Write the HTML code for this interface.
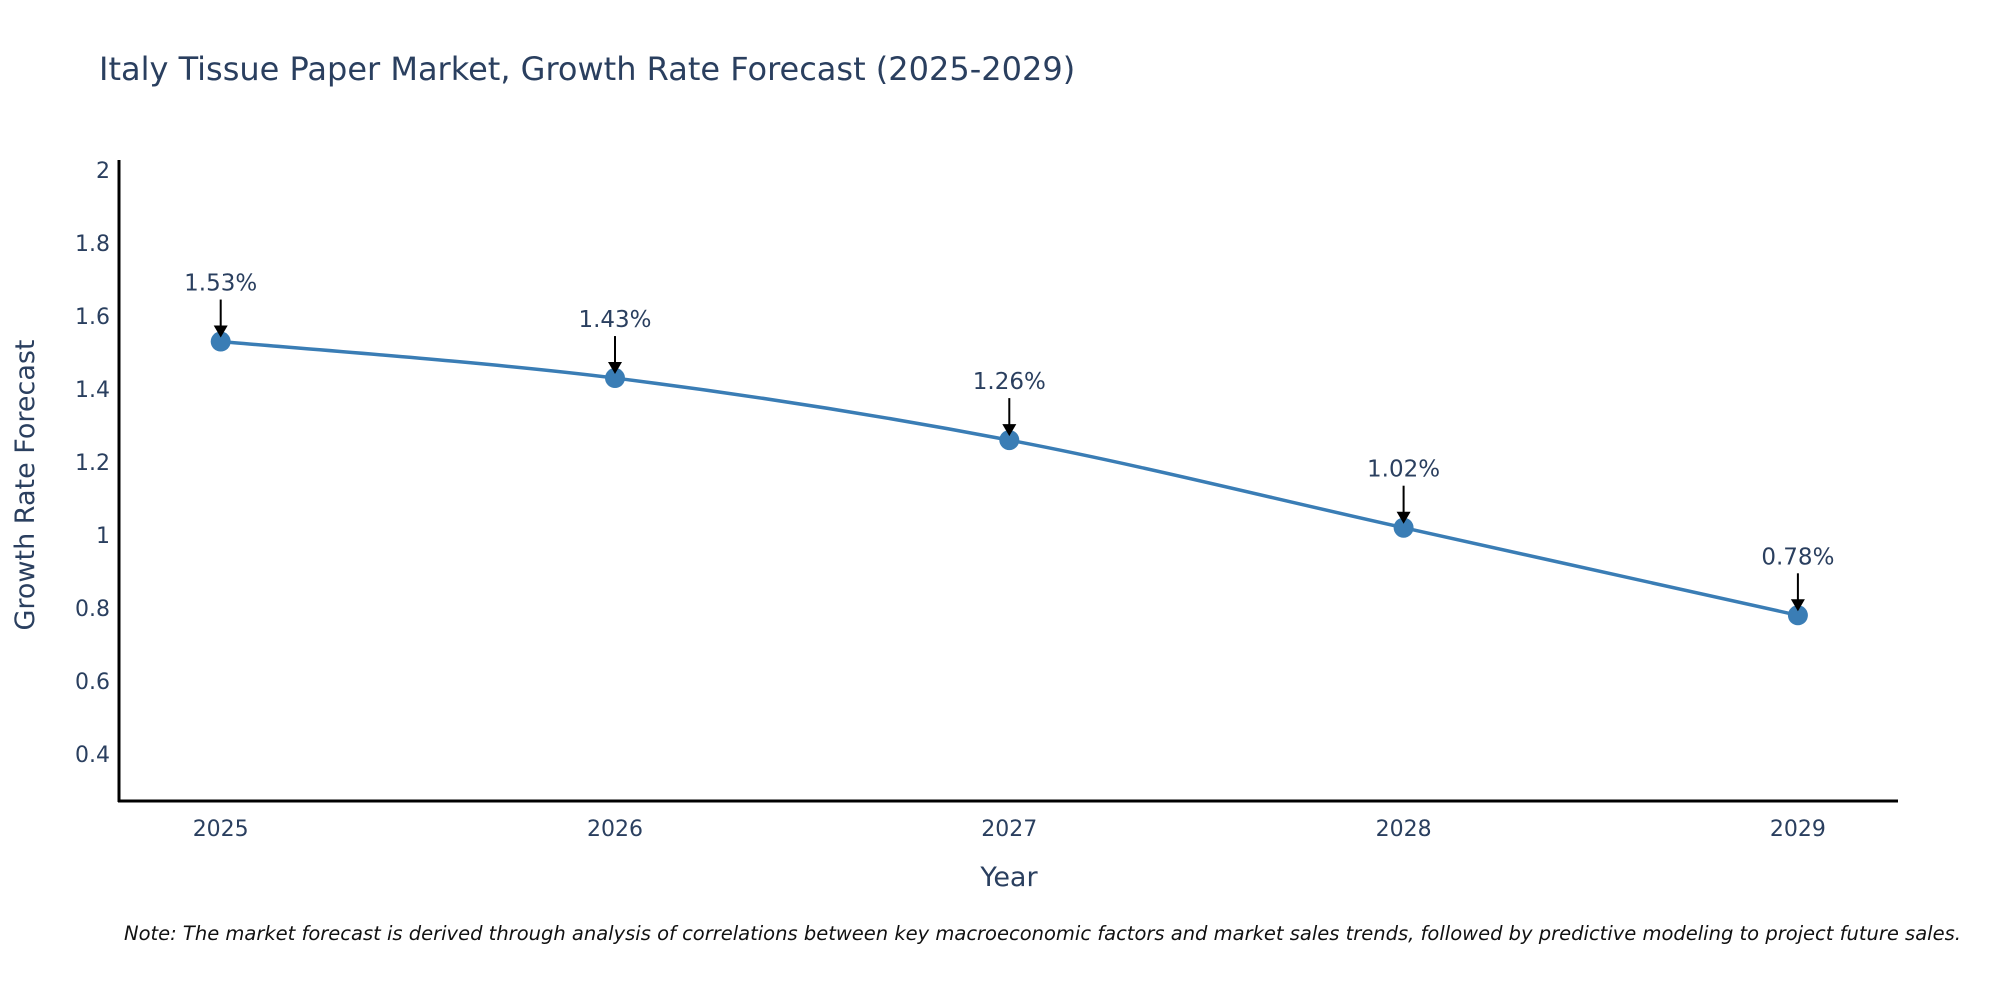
<!DOCTYPE html>
<html><head><meta charset="utf-8"><style>
body{margin:0;background:#fff;}
svg text{font-family:"DejaVu Sans","Liberation Sans",sans-serif;fill:#2a3f5f;}
</style></head><body>
<svg id="chart" width="2000" height="1000" xmlns="http://www.w3.org/2000/svg">
<text x="99" y="80" font-size="32">Italy Tissue Paper Market, Growth Rate Forecast (2025-2029)</text>
<g id="yticks"></g>
<g id="xticks"></g>
<line x1="119" y1="160" x2="119" y2="802" stroke="#000" stroke-width="3"/>
<line x1="118" y1="801" x2="1898" y2="801" stroke="#000" stroke-width="3"/>
<text transform="translate(34,485) rotate(-90)" text-anchor="middle" font-size="27">Growth Rate Forecast</text>
<text x="1009" y="886" text-anchor="middle" font-size="27">Year</text>
<path id="line" fill="none" stroke="#3a7db5" stroke-width="3.5"/>
<g id="pts"></g>
<text x="124" y="940" font-size="19.5" font-style="italic" style="fill:#111">Note: The market forecast is derived through analysis of correlations between key macroeconomic factors and market sales trends, followed by predictive modeling to project future sales.</text>
</svg>
<script>
const years = ["2025","2026","2027","2028","2029"];
const values = [1.53, 1.43, 1.26, 1.02, 0.78];
const labels = ["1.53%","1.43%","1.26%","1.02%","0.78%"];
const yTicks = [0.4,0.6,0.8,1,1.2,1.4,1.6,1.8,2];
const NS="http://www.w3.org/2000/svg";
const X=i=>220.7+i*394.3;
const Y=v=>170+365*(2-v);
function mk(t,a,p){const e=document.createElementNS(NS,t);for(const k in a)e.setAttribute(k,a[k]);(p||document.getElementById('chart')).appendChild(e);return e;}
const yg=document.getElementById('yticks');
yTicks.forEach(v=>{const t=mk('text',{x:110,y:Y(v)+8,'text-anchor':'end','font-size':22},yg);t.textContent=String(v);

});
const xg=document.getElementById('xticks');
years.forEach((y,i)=>{const t=mk('text',{x:X(i),y:836,'text-anchor':'middle','font-size':22},xg);t.textContent=y;

});
const P=values.map((v,i)=>[X(i),Y(v)]);
let d=`M${P[0][0]},${P[0][1]}`;
for(let i=0;i<P.length-1;i++){const p0=P[Math.max(0,i-1)],p1=P[i],p2=P[i+1],p3=P[Math.min(P.length-1,i+2)];const k=6;
d+=` C${p1[0]+(p2[0]-p0[0])/k},${p1[1]+(p2[1]-p0[1])/k} ${p2[0]-(p3[0]-p1[0])/k},${p2[1]-(p3[1]-p1[1])/k} ${p2[0]},${p2[1]}`;}
document.getElementById('line').setAttribute('d',d);
const pg=document.getElementById('pts');
P.forEach((p,i)=>{
const c=mk('circle',{cx:p[0],cy:p[1],r:10,fill:'#3a7db5'},pg);


const l=mk('line',{x1:p[0],y1:p[1]-42,x2:p[0],y2:p[1]-14,stroke:'#000','stroke-width':2},pg);


const a=mk('path',{d:`M${p[0]-7},${p[1]-16} L${p[0]+7},${p[1]-16} L${p[0]},${p[1]-4} Z`,fill:'#000'},pg);


const t=mk('text',{x:p[0],y:p[1]-51,'text-anchor':'middle','font-size':23},pg);t.textContent=labels[i];


});
</script>
</body></html>
